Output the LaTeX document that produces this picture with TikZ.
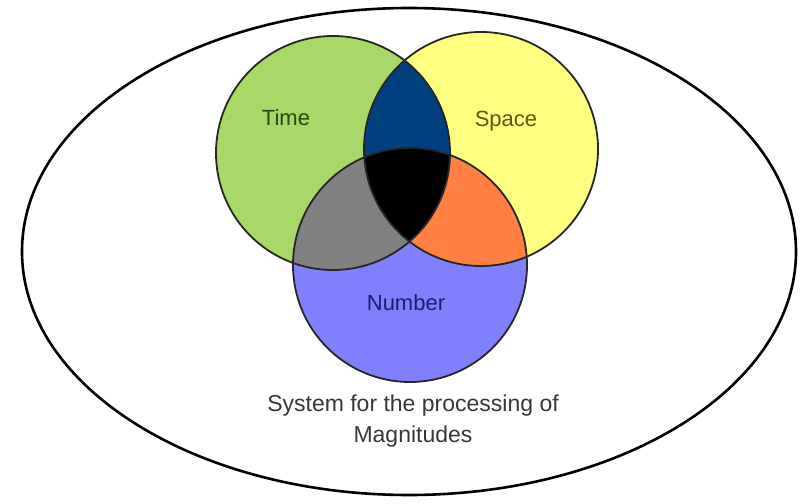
\documentclass[tikz,border=0pt]{standalone}
\usepackage{fontspec}
\setmainfont{Liberation Sans}
\definecolor{timegreen}{RGB}{168,216,104}
\definecolor{spaceyellow}{RGB}{255,255,128}
\definecolor{numberblue}{RGB}{128,128,255}
\definecolor{tsblue}{RGB}{0,64,128}
\definecolor{tngray}{RGB}{128,128,128}
\definecolor{snorange}{RGB}{255,128,64}
\definecolor{timetext}{RGB}{40,72,20}
\definecolor{spacetext}{RGB}{90,90,20}
\definecolor{numbertext}{RGB}{30,30,110}
\definecolor{systext}{RGB}{55,55,55}
\begin{document}
\begin{tikzpicture}[x=1pt,y=-1pt,
  setcircle/.style={draw=black!85,line width=1.8pt},
  lbl/.style={font=\fontsize{22}{26}\selectfont,inner sep=0pt},
  syslbl/.style={font=\fontsize{23}{31}\selectfont,align=center,inner sep=0pt,text=systext}]
\useasboundingbox (0,0) rectangle (808,503);
\coordinate (tc) at (333,153);
\coordinate (sc) at (481,149);
\coordinate (nc) at (410,265);
\def\R{117pt}
% outer ellipse
\draw[line width=2.6pt] (409,251.5) ellipse [x radius=387pt, y radius=243.5pt];
% base fills
\fill[timegreen] (tc) circle (\R);
\fill[spaceyellow] (sc) circle (\R);
\fill[numberblue] (nc) circle (\R);
% pairwise intersections
\begin{scope}\clip (tc) circle (\R); \fill[tsblue] (sc) circle (\R);\end{scope}
\begin{scope}\clip (tc) circle (\R); \fill[tngray] (nc) circle (\R);\end{scope}
\begin{scope}\clip (sc) circle (\R); \fill[snorange] (nc) circle (\R);\end{scope}
\begin{scope}\clip (tc) circle (\R); \clip (sc) circle (\R); \fill[black] (nc) circle (\R);\end{scope}
% outlines
\draw[setcircle] (tc) circle (\R);
\draw[setcircle] (sc) circle (\R);
\draw[setcircle] (nc) circle (\R);
% labels
\node[lbl,text=timetext] (time) at (286,118) {Time};
\node[lbl,text=spacetext] (space) at (506,121) {Space};
\node[lbl,text=numbertext] (number) at (406,303) {Number};
\node[syslbl] (system) at (413,421) {System for the processing of\\Magnitudes};
\end{tikzpicture}
\end{document}
